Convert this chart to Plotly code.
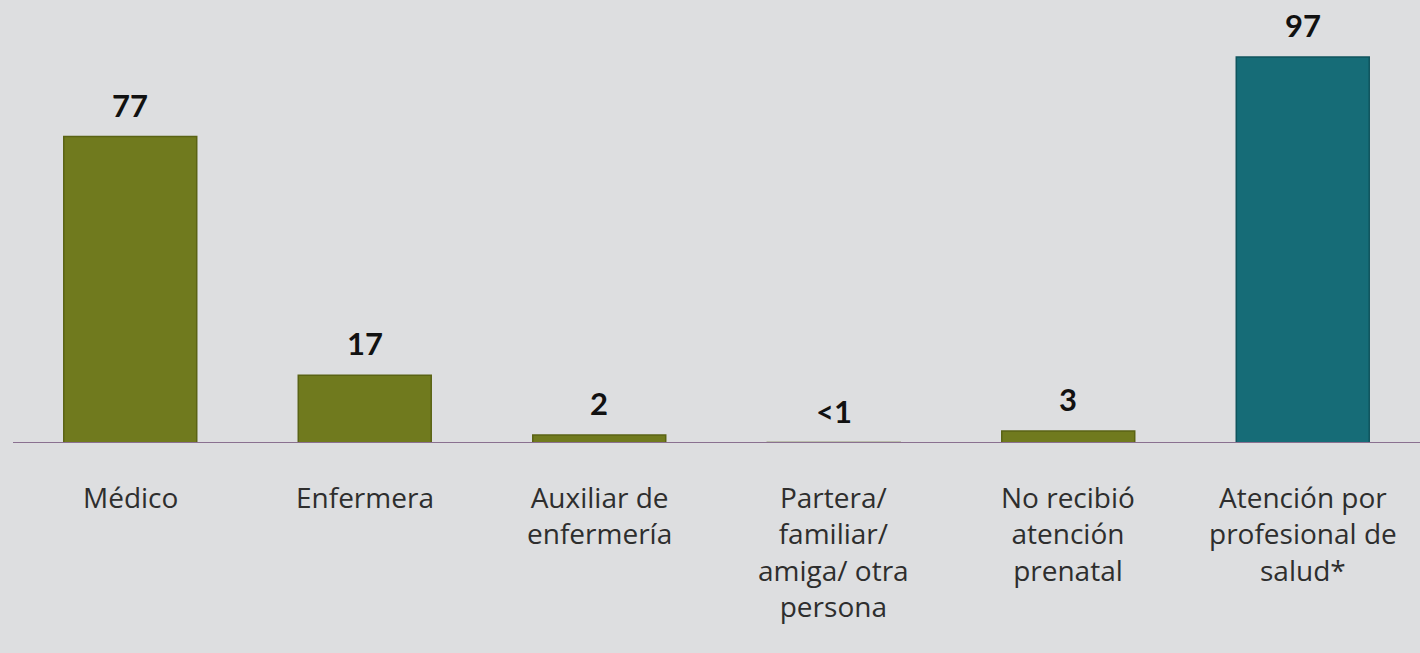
import plotly.graph_objects as go

# Atención prenatal por tipo de profesional (%)
categories = [
    "Médico",
    "Enfermera",
    "Auxiliar de<br>enfermería",
    "Partera/<br>familiar/<br>amiga/ otra<br>persona",
    "No recibió<br>atención<br>prenatal",
    "Atención por<br>profesional de<br>salud*",
]
values = [77, 17, 2, 0.1, 3, 97]
value_labels = ["77", "17", "2", "<1", "3", "97"]

OLIVE = "#707A1E"
TEAL = "#166C77"
BG = "#DDDEE0"
bar_colors = [OLIVE] * 5 + [TEAL]
edge_colors = ["#5A6314"] * 5 + ["#0F545D"]

FONT = "Open Sans, Lato, sans-serif"

fig = go.Figure()
fig.add_trace(go.Bar(
    x=categories,
    y=values,
    marker=dict(color=bar_colors, line=dict(color=edge_colors, width=1.5)),
    hoverinfo="skip",
))

annotations = []
# value labels above bars
for cat, val, lab in zip(categories, values, value_labels):
    annotations.append(dict(
        x=cat, y=val, xref="x", yref="y", text=lab, showarrow=False,
        yanchor="middle", yshift=32,
        font=dict(family="Lato, sans-serif", size=31, color="#111111", weight="bold"),
    ))

# category labels under the axis (28px -> ~36px line spacing like the original)
for cat in categories:
    annotations.append(dict(
        x=cat, y=0, xref="x", yref="paper", text=cat, showarrow=False,
        yanchor="top", yshift=-33, align="center",
        font=dict(family=FONT, size=28, color="#2E2E2E"),
    ))

fig.update_layout(
    width=1420,
    height=653,
    paper_bgcolor=BG,
    plot_bgcolor=BG,
    margin=dict(l=13, r=0, t=0, b=210),
    bargap=0.433,
    showlegend=False,
    annotations=annotations,
    xaxis=dict(
        showticklabels=False, showgrid=False, zeroline=False,
        showline=False, fixedrange=True,
    ),
    yaxis=dict(
        range=[0, 111.3], visible=False, showgrid=False, fixedrange=True,
    ),
    shapes=[dict(
        type="line", xref="paper", yref="y", x0=0, x1=1, y0=0, y1=0,
        line=dict(color="#8A7090", width=2), layer="above",
    )],
)

fig.write_html(
    "out.html",
    config={"displayModeBar": False},
    post_script="document.body.style.margin='0';document.body.style.background='%s';" % BG,
)
